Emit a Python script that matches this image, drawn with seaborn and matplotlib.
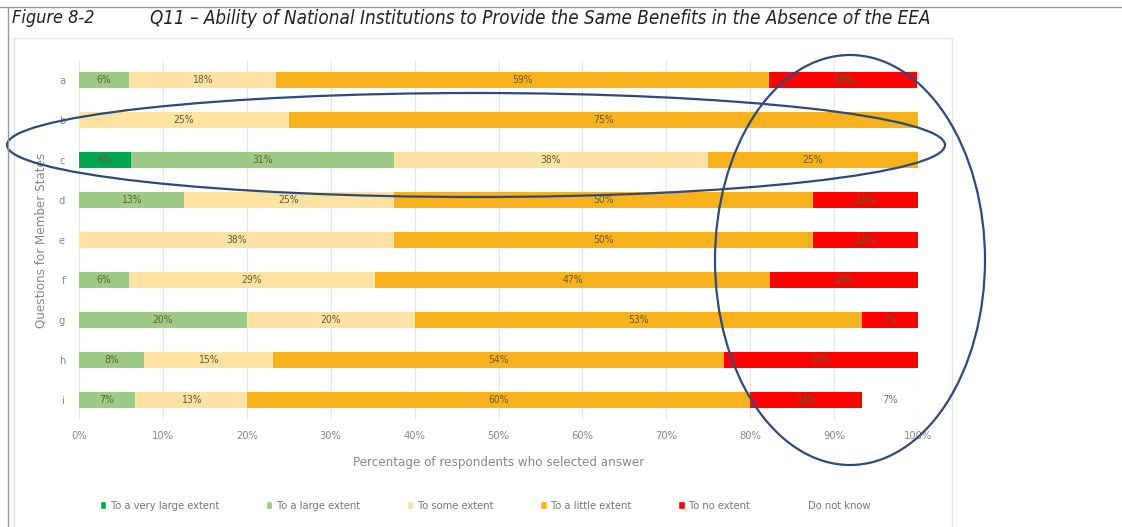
import matplotlib.pyplot as plt
import seaborn as sns
import pandas as pd
from matplotlib.patches import Ellipse, Rectangle
from matplotlib.lines import Line2D

questions = ['a', 'b', 'c', 'd', 'e', 'f', 'g', 'h', 'i']
answers = ['To a very large extent', 'To a large extent', 'To some extent',
           'To a little extent', 'To no extent', 'Do not know']
colors = ['#00a651', '#9ccb86', '#ffe3a3', '#f7b21c', '#ff0000', '#ffffff']

very_large = [0, 0, 6.25, 0, 0, 0, 0, 0, 0]
large = [5.9, 0, 31.25, 12.5, 0, 5.9, 20.0, 7.7, 6.7]
some = [17.6, 25.0, 37.5, 25.0, 37.5, 29.4, 20.0, 15.4, 13.3]
little = [58.8, 75.0, 25.0, 50.0, 50.0, 47.1, 53.3, 53.8, 60.0]
no_extent = [17.6, 0, 0, 12.5, 12.5, 17.6, 6.7, 23.1, 13.3]
dont_know = [0, 0, 0, 0, 0, 0, 0, 0, 6.7]

df = pd.DataFrame(dict(zip(answers, [very_large, large, some, little,
                                     no_extent, dont_know])), index=questions)
cum = df.cumsum(axis=1)

sns.set_style('white')
plt.rcParams['font.family'] = ['DejaVu Sans']
plt.rcParams['font.stretch'] = 'condensed'

W, H = 1122, 527
fig = plt.figure(figsize=(W / 100, H / 100), dpi=100)
ax = fig.add_axes([79 / W, 1 - 420 / H, 839 / W, 360 / H])

# stacked bars: draw cumulative totals from the last category backwards
for ans, col in reversed(list(zip(answers, colors))):
    sns.barplot(x=cum[ans].values, y=questions, color=col, orient='h',
                width=0.38, saturation=1, ax=ax, linewidth=0)

for i, q in enumerate(questions):
    for ans in answers:
        v = df.loc[q, ans]
        if v <= 0:
            continue
        xc = cum.loc[q, ans] - v / 2
        lab = f'{int(v + 0.5)}%'
        if ans == 'Do not know':
            ax.text(xc, i, lab, ha='center', va='center', fontsize=8,
                    color='#777777')
        else:
            ax.text(xc, i, lab, ha='center', va='center', fontsize=7.5,
                    color='#6b5a2c')

ax.set_xlim(0, 100)
ax.set_xticks(range(0, 101, 10))
ax.set_xticklabels([f'{t}%' for t in range(0, 101, 10)])
ax.tick_params(axis='both', colors='#888888', labelsize=8, length=0, pad=8)
ax.tick_params(axis='y', pad=10)
ax.grid(axis='x', color='#e6e6e6', linewidth=0.8)
ax.set_axisbelow(True)
for s in ax.spines.values():
    s.set_visible(False)
ax.set_xlabel('Percentage of respondents who selected answer', fontsize=9.5,
              color='#888888', labelpad=11)
ax.set_ylabel('Questions for Member States', fontsize=9.5, color='#888888',
              labelpad=8)

handles = [Rectangle((0, 0), 1, 1, facecolor=c) for c in colors]
fig.legend(handles, answers, loc='center', bbox_to_anchor=(485 / W, 1 - 506 / H),
           ncol=6, frameon=False, fontsize=8, labelcolor='#777777',
           handlelength=0.6, handleheight=0.8, handletextpad=0.4,
           columnspacing=4.2)

# page frame and title
fig.add_artist(Line2D([0, 1], [1 - 7 / H, 1 - 7 / H], color='#999999', lw=1))
fig.add_artist(Line2D([8 / W, 8 / W], [0, 1 - 7 / H], color='#999999', lw=1))
fig.add_artist(Rectangle((14 / W, -0.01), 938 / W, 1 - 38 / H + 0.01,
                         fill=False, edgecolor='#e4e4e4', lw=1))
fig.text(12 / W, 1 - 18 / H, 'Figure 8-2', fontsize=13, style='italic',
         va='center', color='#222222')
fig.text(150 / W, 1 - 18 / H,
         'Q11 \u2013 Ability of National Institutions to Provide the Same '
         'Benefits in the Absence of the EEA',
         fontsize=13.5, style='italic', va='center', color='#222222')

# hand-drawn highlight ellipses
fig.add_artist(Ellipse((476 / W, 1 - 145 / H), 938 / W, 104 / H, fill=False,
                       edgecolor='#2f4a7a', lw=1.6))
fig.add_artist(Ellipse((850 / W, 1 - 260 / H), 270 / W, 410 / H, fill=False,
                       edgecolor='#2f4a7a', lw=1.6))

fig.savefig('out.png', dpi=100)
